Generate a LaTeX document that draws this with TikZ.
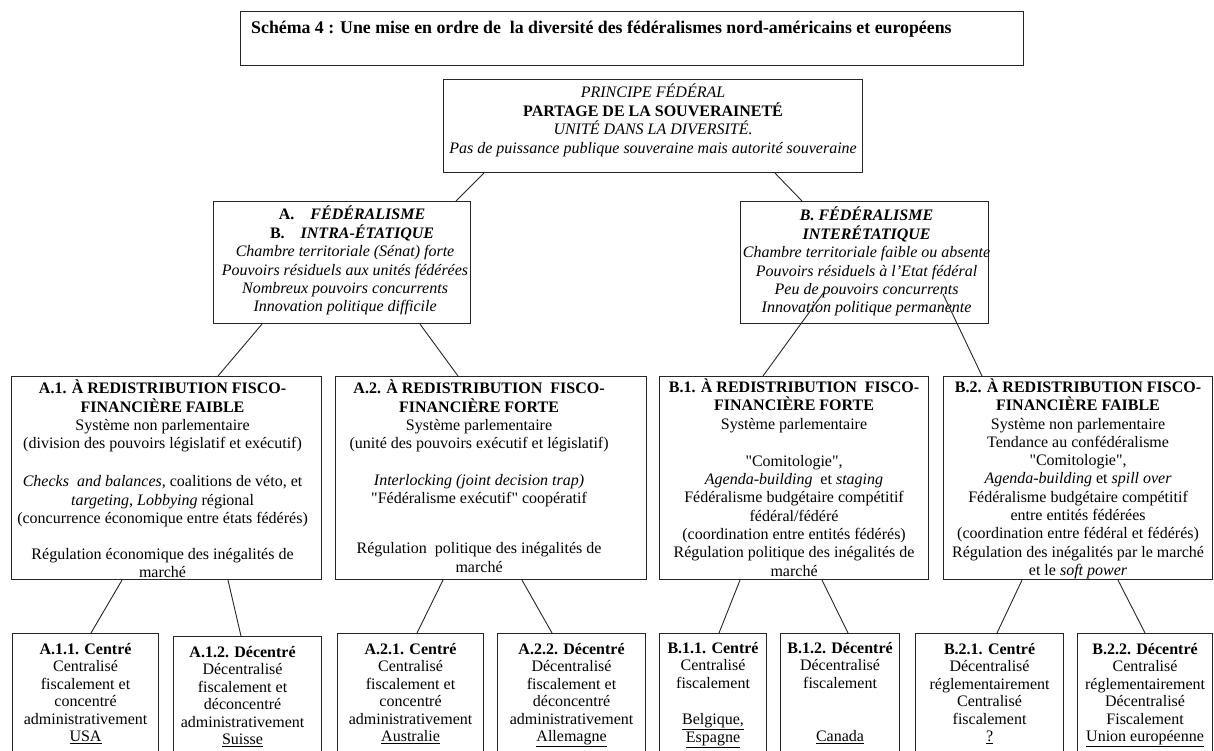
\documentclass[tikz,border=0pt]{standalone}
\usepackage{fontspec}
\setmainfont{Liberation Serif}[Ligatures=TeXOff]
\newcommand\dq{"}
\begin{document}
\begin{tikzpicture}[x=1pt,y=-1pt,
  box/.style={draw=black!85, line width=1.1pt, anchor=north west, inner sep=0pt},
  txt/.style={align=center, inner sep=0pt, anchor=north, font=\fontsize{16}{18.4}\selectfont},
  smalltxt/.style={align=center, inner sep=0pt, anchor=north, font=\fontsize{16}{17.5}\selectfont},
  conn/.style={draw=black!85, line width=0.9pt}]
\useasboundingbox (0,0) rectangle (1214,751);
\clip (0,0) rectangle (1214,751);

% title
\node[box, minimum width=783pt, minimum height=54pt] (title) at (240,11) {};
\node[anchor=base west, inner sep=0pt, font=\fontsize{17.8}{20}\selectfont\bfseries] (titlet) at ([xshift=11pt,yshift=-23pt]title.north west) {Schéma 4 : Une mise en ordre de\ \ la diversité des fédéralismes nord-américains et européens};

% top box
\node[box, minimum width=419pt, minimum height=93pt] (top) at (443,79) {};
\node[txt] (topt) at ([yshift=-5pt]top.north) {\textit{PRINCIPE FÉDÉRAL}\\
\textbf{PARTAGE DE LA SOUVERAINETÉ}\\
\textit{UNITÉ DANS LA DIVERSITÉ.}\\
\textit{Pas de puissance publique souveraine mais autorité souveraine}};

% level 1
\node[box, minimum width=257pt, minimum height=122pt] (A) at (213,201) {};
\node[txt] (At) at ([xshift=3pt,yshift=-5pt]A.north) {\hspace*{14pt}\textbf{A.}\quad\textbf{\textit{FÉDÉRALISME}}\\
\hspace*{14pt}\textbf{B.}\quad\textbf{\textit{INTRA-ÉTATIQUE}}\\
\textit{Chambre territoriale (Sénat) forte}\\
\textit{Pouvoirs résiduels aux unités fédérées}\\
\textit{Nombreux pouvoirs concurrents}\\
\textit{Innovation politique difficile}};

\node[box, minimum width=248pt, minimum height=122pt] (B) at (740,201) {};
\node[txt] (Bt) at ([xshift=2pt,yshift=-6pt]B.north) {\textbf{\textit{B. FÉDÉRALISME}}\\
\textbf{\textit{INTERÉTATIQUE}}\\
\textit{Chambre territoriale faible ou absente}\\
\textit{Pouvoirs résiduels à l’Etat fédéral}\\
\textit{Peu de pouvoirs concurrents}\\
\textit{Innovation politique permanente}};

% level 2
\node[box, minimum width=310pt, minimum height=203pt] (A1) at (11,376) {};
\node[txt, font=\fontsize{16}{18.3}\selectfont] (A1t) at ([xshift=-4pt,yshift=-4pt]A1.north) {\textbf{A.1. À REDISTRIBUTION FISCO-}\\
\textbf{FINANCIÈRE FAIBLE}\\
Système non parlementaire\\
(division des pouvoirs législatif et exécutif)\\[19.6pt]
\textit{Checks\ \ and balances}, coalitions de véto, et\\
\textit{targeting}, \textit{Lobbying} régional\\
(concurrence économique entre états fédérés)\\[17.6pt]
Régulation économique des inégalités de\\
marché};

\node[box, minimum width=311pt, minimum height=203pt] (A2) at (335,376) {};
\node[txt, font=\fontsize{16}{18.3}\selectfont] (A2t) at ([xshift=-12pt,yshift=-4pt]A2.north) {\textbf{A.2. À REDISTRIBUTION\ \ FISCO-}\\
\textbf{FINANCIÈRE FORTE}\\
Système parlementaire\\
(unité des pouvoirs exécutif et législatif)\\[18.4pt]
\textit{Interlocking (joint decision trap)}\\
\dq Fédéralisme exécutif\dq{} coopératif\\[31.6pt]
Régulation\ \ politique des inégalités de\\
marché};

\node[box, minimum width=269pt, minimum height=203pt] (B1) at (659,376) {};
\node[txt, font=\fontsize{16}{18.3}\selectfont] (B1t) at ([yshift=-2.5pt]B1.north) {\textbf{B.1. À REDISTRIBUTION\ \ FISCO-}\\
\textbf{FINANCIÈRE FORTE}\\
Système parlementaire\\[19pt]
\dq Comitologie\dq,\\
\textit{Agenda-building}\ \ et \textit{staging}\\
Fédéralisme budgétaire compétitif\\
fédéral/fédéré\\
(coordination entre entités fédérés)\\
Régulation politique des inégalités de\\
marché};

\node[box, minimum width=269pt, minimum height=203pt] (B2) at (943,376) {};
\node[txt, font=\fontsize{16}{18.3}\selectfont] (B2t) at ([yshift=-2.5pt]B2.north) {\textbf{B.2. À REDISTRIBUTION FISCO-}\\
\textbf{FINANCIÈRE FAIBLE}\\
Système non parlementaire\\
Tendance au confédéralisme\\
\dq Comitologie\dq,\\
\textit{Agenda-building} et \textit{spill over}\\
Fédéralisme budgétaire compétitif\\
entre entités fédérées\\
(coordination entre fédéral et fédérés)\\
Régulation des inégalités par le marché\\
et le \textit{soft power}};

% level 3
\node[box, minimum width=146pt, minimum height=130pt] (A11) at (12,633) {};
\node[smalltxt] (A11t) at ([yshift=-10pt]A11.north) {\textbf{A.1.1. Centré}\\
Centralisé\\ fiscalement et\\ concentré\\ administrativement\\ \underline{USA}};

\node[box, minimum width=148pt, minimum height=130pt] (A12) at (173,636) {};
\node[smalltxt] (A12t) at ([xshift=-5pt,yshift=-10pt]A12.north) {\textbf{A.1.2. Décentré}\\
Décentralisé\\ fiscalement et\\ déconcentré\\ administrativement\\ \underline{Suisse}};

\node[box, minimum width=146pt, minimum height=130pt] (A21) at (337,633) {};
\node[smalltxt] (A21t) at ([yshift=-10pt]A21.north) {\textbf{A.2.1. Centré}\\
Centralisé\\ fiscalement et\\ concentré\\ administrativement\\ \underline{Australie}};

\node[box, minimum width=148pt, minimum height=130pt] (A22) at (497,633) {};
\node[smalltxt] (A22t) at ([yshift=-10pt]A22.north) {\textbf{A.2.2. Décentré}\\
Décentralisé\\ fiscalement et\\ déconcentré\\ administrativement\\ \underline{Allemagne}};

\node[box, minimum width=107pt, minimum height=130pt] (B11) at (659,633) {};
\node[smalltxt] (B11t) at ([yshift=-9pt]B11.north) {\textbf{B.1.1. Centré}\\
Centralisé\\ fiscalement\\[19pt] \underline{Belgique,}\\ \underline{Espagne}};

\node[box, minimum width=119pt, minimum height=130pt] (B12) at (780,633) {};
\node[smalltxt] (B12t) at ([yshift=-9pt]B12.north) {\textbf{B.1.2. Décentré}\\
Décentralisé\\ fiscalement\\[36pt] \underline{Canada}};

\node[box, minimum width=148pt, minimum height=130pt] (B21) at (915,633) {};
\node[smalltxt] (B21t) at ([yshift=-10pt]B21.north) {\textbf{B.2.1. Centré}\\
Décentralisé\\ réglementairement\\ Centralisé\\ fiscalement\\ \underline{?}};

\node[box, minimum width=135pt, minimum height=130pt] (B22) at (1077,633) {};
\node[smalltxt] (B22t) at ([yshift=-10pt]B22.north) {\textbf{B.2.2. Décentré}\\
Centralisé\\ réglementairement\\ Décentralisé\\ Fiscalement\\ \underline{Union européenne}};

% connectors
\coordinate (Bin1) at ([xshift=84pt,yshift=-91pt]B.north west);
\coordinate (Bin2) at ([xshift=203pt,yshift=-93pt]B.north west);
\draw[conn] ([xshift=41pt]top.south west) -- ([xshift=243pt]A.north west);
\draw[conn] ([xshift=332pt]top.south west) -- ([xshift=62pt]B.north west);
\draw[conn] ([xshift=49pt]A.south west) -- ([xshift=207pt]A1.north west);
\draw[conn] ([xshift=207pt]A.south west) -- ([xshift=123pt]A2.north west);
\draw[conn] (Bin1) -- ([xshift=104pt]B1.north west);
\draw[conn] (Bin2) -- ([xshift=39pt]B2.north west);
\draw[conn] ([xshift=111pt]A1.south west) -- ([xshift=79pt]A11.north west);
\draw[conn] ([xshift=217pt]A1.south west) -- ([xshift=68pt]A12.north west);
\draw[conn] ([xshift=108pt]A2.south west) -- ([xshift=80pt]A21.north west);
\draw[conn] ([xshift=187pt]A2.south west) -- ([xshift=55pt]A22.north west);
\draw[conn] ([xshift=81pt]B1.south west) -- ([xshift=60pt]B11.north west);
\draw[conn] ([xshift=163pt]B1.south west) -- ([xshift=68pt]B12.north west);
\draw[conn] ([xshift=79pt]B2.south west) -- ([xshift=82pt]B21.north west);
\draw[conn] ([xshift=175pt]B2.south west) -- ([xshift=68pt]B22.north west);
\end{tikzpicture}
\end{document}
